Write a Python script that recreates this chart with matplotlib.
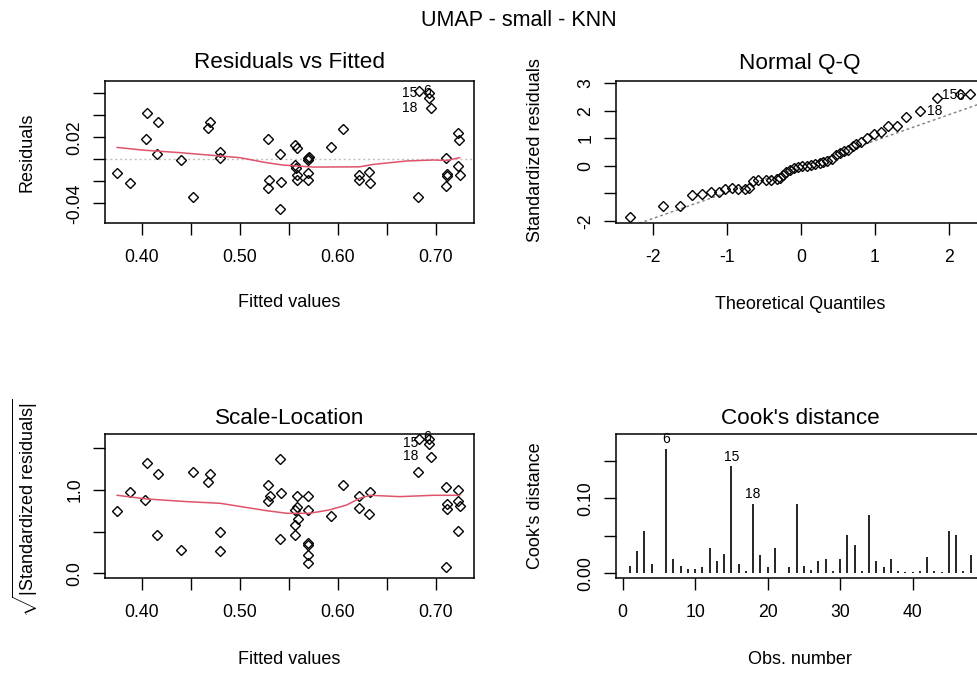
import matplotlib
matplotlib.use("Agg")
import matplotlib.pyplot as plt
from matplotlib.ticker import FixedLocator, FixedFormatter

# ---- data (lm diagnostics, n = 48) ----
# Residuals vs Fitted
rf_fitted = [0.375, 0.388, 0.405, 0.404, 0.417, 0.416, 0.440, 0.452, 0.470, 0.468,
             0.480, 0.480, 0.529, 0.530, 0.529, 0.541, 0.542, 0.541, 0.556, 0.558,
             0.556, 0.557, 0.558, 0.558, 0.570, 0.569, 0.571, 0.569, 0.570, 0.593,
             0.605, 0.621, 0.621, 0.632, 0.633, 0.683, 0.693, 0.693, 0.695, 0.682,
             0.710, 0.711, 0.711, 0.710, 0.722, 0.723, 0.722, 0.724]
rf_resid = [-0.0126, -0.0219, 0.0422, 0.0182, 0.0342, 0.0046, -0.0006, -0.0339, 0.0342, 0.0286,
            0.0062, 0.0015, 0.0182, -0.0191, -0.0262, 0.0046, -0.0209, -0.0447, 0.0126, 0.0099,
            -0.0055, -0.0077, -0.0139, -0.0191, 0.0015, -0.0006, 0.0022, -0.0123, -0.0191, 0.0114,
            0.0274, -0.0139, -0.0185, -0.0114, -0.0219, 0.0616, 0.0600, 0.0560, 0.0462, -0.0339,
            0.0012, -0.0132, -0.0154, -0.0246, 0.0237, 0.0179, -0.0062, -0.0139]
rf_smooth_x = [0.375, 0.402, 0.440, 0.480, 0.500, 0.527, 0.544, 0.561, 0.575, 0.622,
               0.636, 0.670, 0.697, 0.711, 0.724]
rf_smooth_y = [0.0108, 0.0083, 0.0060, 0.0030, 0.0015, -0.0030, -0.0052, -0.0062, -0.0070, -0.0068,
               -0.0046, -0.0015, -0.0006, -0.0010, 0.0015]
rf_label_idx = [35, 36, 38]
rf_label_txt = ["6", "15", "18"]
rf_label_off = [(8, 0), (-19, 0), (-21, 0)]

# Normal Q-Q
qq_theo = [-2.32, -1.87, -1.64, -1.48, -1.34, -1.22, -1.11, -1.03, -0.94, -0.85,
           -0.76, -0.71, -0.65, -0.58, -0.47, -0.40, -0.33, -0.28, -0.24, -0.20,
           -0.15, -0.09, -0.04, 0.02, 0.08, 0.13, 0.19, 0.26, 0.30, 0.35,
           0.42, 0.48, 0.53, 0.58, 0.64, 0.71, 0.75, 0.82, 0.90, 0.99,
           1.08, 1.18, 1.30, 1.43, 1.61, 1.85, 2.15, 2.29]
qq_std = [-1.86, -1.45, -1.45, -1.07, -1.02, -0.94, -0.94, -0.85, -0.81, -0.84,
          -0.84, -0.81, -0.57, -0.53, -0.51, -0.51, -0.49, -0.44, -0.33, -0.24,
          -0.17, -0.09, -0.05, -0.02, 0.00, 0.04, 0.06, 0.10, 0.12, 0.19,
          0.24, 0.40, 0.46, 0.52, 0.58, 0.73, 0.80, 0.85, 1.02, 1.17,
          1.22, 1.46, 1.46, 1.76, 1.99, 2.45, 2.59, 2.62]
qq_line_intercept = -0.03
qq_line_slope = 0.94
qq_label_idx = [44, 45, 46]
qq_label_txt = ["18", "15", "6"]
qq_label_off = [(15, 0), (12, -3), (1, 2)]

# Scale-Location
sl_fitted = [0.375, 0.388, 0.405, 0.403, 0.417, 0.416, 0.440, 0.452, 0.470, 0.468,
             0.480, 0.480, 0.529, 0.531, 0.529, 0.541, 0.542, 0.541, 0.558, 0.558,
             0.556, 0.559, 0.556, 0.556, 0.570, 0.569, 0.569, 0.569, 0.570, 0.570,
             0.593, 0.605, 0.621, 0.621, 0.633, 0.632, 0.683, 0.693, 0.693, 0.695,
             0.682, 0.710, 0.711, 0.711, 0.710, 0.722, 0.722, 0.724, 0.722]
sl_sqrt_std = [0.752, 0.980, 1.328, 0.876, 1.188, 0.460, 0.284, 1.220, 1.188, 1.100,
               0.492, 0.264, 1.064, 0.928, 0.872, 1.376, 0.960, 0.408, 0.924, 0.792,
               0.760, 0.648, 0.576, 0.460, 0.924, 0.760, 0.368, 0.340, 0.216, 0.128,
               0.684, 1.064, 0.924, 0.788, 0.980, 0.712, 1.608, 1.608, 1.548, 1.400,
               1.220, 1.032, 0.828, 0.768, 0.080, 1.000, 0.872, 0.804, 0.512]
sl_smooth_x = [0.375, 0.405, 0.446, 0.480, 0.527, 0.548, 0.571, 0.591, 0.609, 0.622,
               0.633, 0.663, 0.697, 0.724]
sl_smooth_y = [0.936, 0.892, 0.860, 0.840, 0.752, 0.720, 0.720, 0.760, 0.820, 0.900,
               0.936, 0.920, 0.936, 0.936]
sl_label_idx = [36, 38, 39]
sl_label_txt = ["6", "15", "18"]
sl_label_off = [(8, -2), (-18, -1), (-20, -1)]

# Cook's distance
cooks = [0.0102, 0.0293, 0.0564, 0.0124, 0.0010, 0.1660, 0.0196, 0.0102, 0.0058, 0.0058,
         0.0084, 0.0333, 0.0160, 0.0258, 0.1430, 0.0124, 0.0027, 0.0929, 0.0240, 0.0084,
         0.0333, 0.0010, 0.0084, 0.0929, 0.0102, 0.0044, 0.0160, 0.0196, 0.0027, 0.0196,
         0.0507, 0.0373, 0.0027, 0.0778, 0.0160, 0.0084, 0.0196, 0.0027, 0.0018, 0.0018,
         0.0027, 0.0222, 0.0027, 0.0018, 0.0564, 0.0507, 0.0027, 0.0240]
cook_label_obs = [6, 15, 18]

# ---- figure ----
plt.rcParams["font.family"] = ["Liberation Sans", "DejaVu Sans"]
plt.rcParams["mathtext.fontset"] = "custom"
plt.rcParams["mathtext.rm"] = "Liberation Sans"
plt.rcParams["mathtext.it"] = "Liberation Sans:italic"

W, H = 978, 673
fig = plt.figure(figsize=(W / 100, H / 100), dpi=100)
RED = "#DF536B"


def rect(left, top, right, bottom):
    return [left / W, 1 - bottom / H, (right - left) / W, (bottom - top) / H]


def ftext(x, y, s, **kw):
    # text centred on a pixel position (y measured from the top)
    fig.text(x / W, 1 - y / H, s, ha="center", va="center", **kw)


def setup(ax, xlim, ylim, xt, xl, yt, yl):
    ax.set_xlim(xlim)
    ax.set_ylim(ylim)
    ax.xaxis.set_major_locator(FixedLocator(xt))
    ax.xaxis.set_major_formatter(FixedFormatter(xl))
    ax.yaxis.set_major_locator(FixedLocator(yt))
    ax.yaxis.set_major_formatter(FixedFormatter(yl))
    ax.tick_params(direction="out", length=8.3, width=1.0, labelsize=12.7, colors="black")
    ax.tick_params(axis="x", pad=10)
    ax.tick_params(axis="y", pad=7, labelrotation=90)
    plt.setp(ax.get_yticklabels(), va="center")
    for s in ax.spines.values():
        s.set_linewidth(1.1)


def points(ax, x, y):
    # R's small open circles render as little diamonds at this size
    ax.plot(x, y, "D", mfc="none", mec="black", ms=5, mew=1.0, clip_on=False)


def labels(ax, x, y, idx, txt, off):
    for i, t, (dx, dy) in zip(idx, txt, off):
        ax.annotate(t, (x[i], y[i]), xytext=(dx, -dy), textcoords="offset pixels",
                    ha="center", va="center", fontsize=10, annotation_clip=False)


# Residuals vs Fitted
ax1 = fig.add_axes(rect(105, 80.7, 474, 223.3))
setup(ax1, (0.3626, 0.7387), (-0.058, 0.0713),
      [0.40, 0.45, 0.50, 0.55, 0.60, 0.65, 0.70], ["0.40", "", "0.50", "", "0.60", "", "0.70"],
      [-0.04, -0.02, 0.0, 0.02, 0.04, 0.06], ["-0.04", "", "", "0.02", "", ""])
ax1.axhline(0, color="#BEBEBE", lw=1, ls=(0, (1.5, 2)))
points(ax1, rf_fitted, rf_resid)
ax1.plot(rf_smooth_x, rf_smooth_y, color=RED, lw=1.1)
labels(ax1, rf_fitted, rf_resid, rf_label_idx, rf_label_txt, rf_label_off)
ftext(289.5, 63, "Residuals vs Fitted", fontsize=16.2)
ftext(289.5, 303, "Fitted values", fontsize=13)
ftext(27, 152, "Residuals", fontsize=13, rotation=90)

# Normal Q-Q
ax2 = fig.add_axes(rect(615.7, 80.7, 984.7, 223.3))
setup(ax2, (-2.51, 2.49), (-2.09, 3.09),
      [-2, -1, 0, 1, 2], ["-2", "-1", "0", "1", "2"],
      [-2, -1, 0, 1, 2, 3], ["-2", "", "0", "1", "2", "3"])
ax2.axline((0, qq_line_intercept), slope=qq_line_slope, color="#7F7F7F", lw=1, ls=(0, (2, 2)))
points(ax2, qq_theo, qq_std)
labels(ax2, qq_theo, qq_std, qq_label_idx, qq_label_txt, qq_label_off)
ftext(800, 63, "Normal Q-Q", fontsize=16.2)
ftext(800, 305, "Theoretical Quantiles", fontsize=13)
ftext(536, 150, "Standardized residuals", fontsize=13, rotation=90)

# Scale-Location
ax3 = fig.add_axes(rect(105, 434.3, 474, 578.3))
setup(ax3, (0.3626, 0.7387), (-0.06, 1.668),
      [0.40, 0.45, 0.50, 0.55, 0.60, 0.65, 0.70], ["0.40", "", "0.50", "", "0.60", "", "0.70"],
      [0.0, 0.5, 1.0, 1.5], ["0.0", "", "1.0", ""])
points(ax3, sl_fitted, sl_sqrt_std)
ax3.plot(sl_smooth_x, sl_smooth_y, color=RED, lw=1.1)
labels(ax3, sl_fitted, sl_sqrt_std, sl_label_idx, sl_label_txt, sl_label_off)
ftext(289.5, 418, "Scale-Location", fontsize=16.2)
ftext(289.5, 660, "Fitted values", fontsize=13)
ftext(25, 508, r"$\sqrt{|\mathrm{Standardized\ residuals}|}$", fontsize=13, rotation=90)

# Cook's distance
obs = list(range(1, len(cooks) + 1))
ax4 = fig.add_axes(rect(615.7, 434.3, 984.7, 578.3))
setup(ax4, (-0.95, 49.95), (-0.0067, 0.1853),
      [0, 10, 20, 30, 40, 50], ["0", "10", "20", "30", "40", "50"],
      [0.0, 0.05, 0.10, 0.15], ["0.00", "", "0.10", ""])
ax4.vlines(obs, 0, cooks, color="black", lw=1.2)
for o in cook_label_obs:
    ax4.annotate(str(o), (o, cooks[o - 1]), xytext=(0, 9.4), textcoords="offset pixels",
                 ha="center", va="center", fontsize=10, annotation_clip=False)
ftext(800, 418, "Cook's distance", fontsize=16.2)
ftext(800, 660, "Obs. number", fontsize=13)
ftext(536, 506, "Cook's distance", fontsize=13, rotation=90)

ftext(519, 21, "UMAP - small - KNN", fontsize=15.5)

fig.savefig("out.png", dpi=100)
